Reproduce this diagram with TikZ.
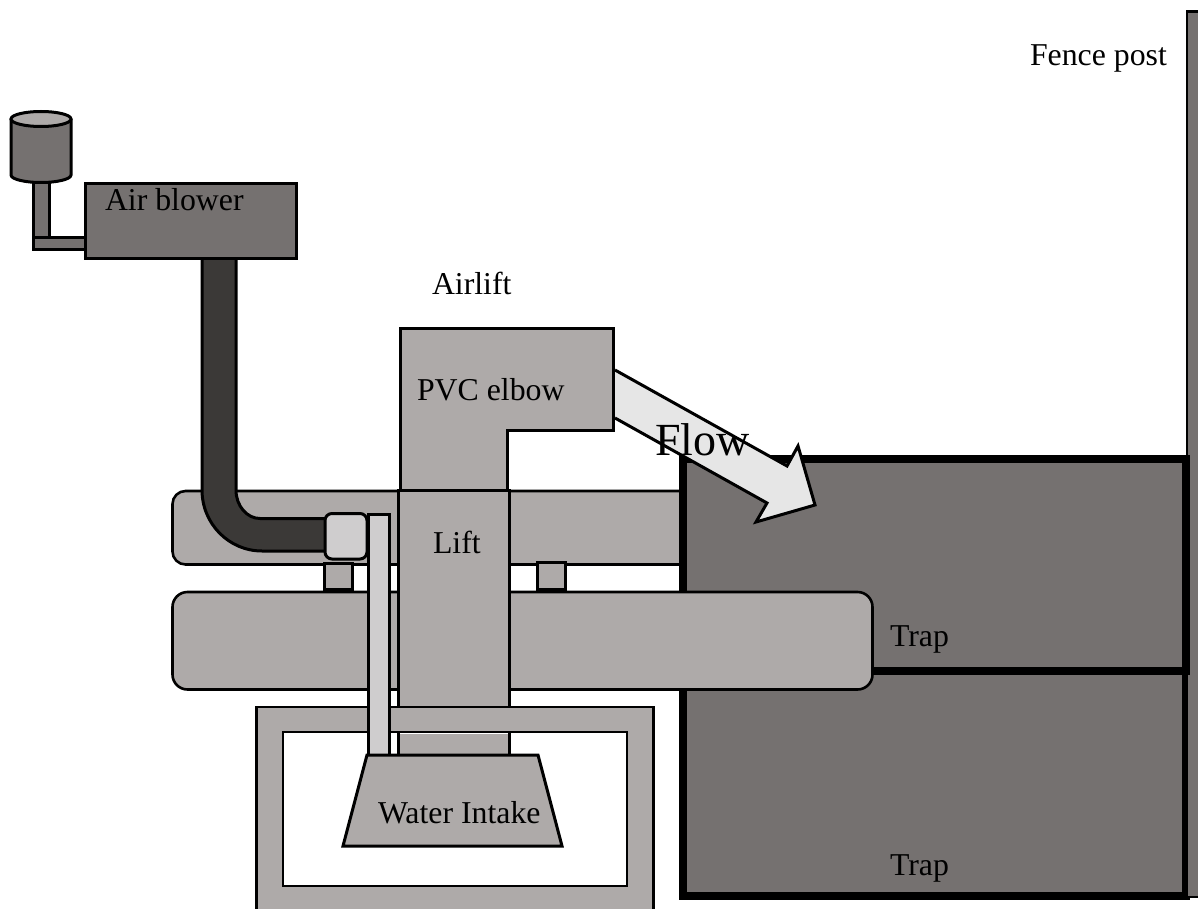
\documentclass[tikz,border=0pt]{standalone}
\usepackage{fontspec}
\setmainfont{Liberation Serif}
\definecolor{darkgrey}{HTML}{757170}
\definecolor{midgrey}{HTML}{AEAAA9}
\definecolor{lightgrey}{HTML}{CFCDCE}
\definecolor{pipegrey}{HTML}{3B3937}
\definecolor{arrowgrey}{HTML}{E6E6E6}
\tikzset{
  part/.style={draw=black,line width=3pt,line join=miter},
  dark/.style={part,fill=darkgrey},
  mid/.style={part,fill=midgrey},
  light/.style={part,fill=lightgrey},
  floatbody/.style={mid,line width=2.6pt},
  trapbox/.style={draw=black,line width=8pt,fill=darkgrey},
  lab/.style={anchor=base west,inner sep=0pt,outer sep=0pt,text=black,font=\fontsize{31.8}{36}\selectfont},
  biglab/.style={anchor=base west,inner sep=0pt,outer sep=0pt,text=black,font=\fontsize{46}{50}\selectfont}
}
\begin{document}
\begin{tikzpicture}[x=1pt,y=-1pt]
\useasboundingbox (0,0) rectangle (1198,909);
% traps and post
\draw[trapbox] (682.5,670) rectangle (1186,895.5);
\draw[dark,line width=2.6pt] (1186.8,11.5) rectangle (1205,897);
\draw[floatbody] (172.5,504) arc[start angle=180,end angle=270,radius=13] -- (690,491) -- (690,564.5) -- (185.5,564.5) arc[start angle=90,end angle=180,radius=13] -- cycle;
\draw[trapbox] (682.5,459) rectangle (1186,670.5);
% lower float
\draw[floatbody,rounded corners=15pt] (172.5,592) rectangle (872.5,689.5);
% spacer blocks
\draw[mid] (324,563.5) rectangle (352,589.5);
\draw[mid] (537,562.5) rectangle (565,589.5);
% lift and elbow
\draw[mid] (400,490) -- (400,328) -- (613,328) -- (613,430) -- (507,430) -- (507,490);
\draw[mid] (398,490) rectangle (509,760);
% frame
\draw[floatbody] (256.5,707) rectangle (653.5,920);
\fill[white] (283,732) rectangle (627,886);
\draw[part,line width=2.6pt] (283,732) rectangle (627,886);
\fill[midgrey] (398,733.5) rectangle (509,760);
\draw[part] (398,732) -- (398,760) (509,732) -- (509,760);
% air supply
\draw[part,fill=pipegrey] (202,250) -- (202,490) arc[start angle=180,end angle=90,x radius=60,y radius=61] -- (330,551) -- (330,518.5) -- (260,518.5) arc[start angle=90,end angle=180,x radius=24,y radius=28.5] -- (236,250) -- cycle;
\draw[light,rounded corners=7pt] (325,513.5) rectangle (367,559);
\draw[light] (368.5,514) rectangle (389.5,760);
\draw[mid] (367,755) -- (538,755) -- (562,846) -- (343,846) -- cycle;
% blower
\draw[dark] (33,183) rectangle (49,238);
\draw[dark] (33,238) rectangle (90,249.5);
\draw[dark] (85,183.5) rectangle (296,258.5);
\draw[dark] (11,119) -- (11,175) arc[start angle=180,end angle=0,x radius=30,y radius=7.5] -- (71,119);
\draw[part,fill=midgrey] (41,119) ellipse[x radius=30,y radius=7.5];
% flow arrow
\fill[arrowgrey] (615,370) -- (787,466) -- (798,446) -- (815,505) -- (756,522) -- (767,503) -- (615,418) -- cycle;
\draw[part] (615,370) -- (787,466) -- (798,446) -- (815,505) -- (756,522) -- (767,503) -- (615,418);
% labels
\node[lab] (fence) at (1030,66) {Fence post};
\node[lab] (blower) at (105,211) {Air blower};
\node[lab] (airlift) at (432,294) {Airlift};
\node[lab] (elbow) at (417,400) {PVC elbow};
\node[lab] (lift) at (433,553) {Lift};
\node[lab] (intake) at (378,823) {Water Intake};
\node[lab] (trapa) at (890,646) {Trap};
\node[lab] (trapb) at (890,875) {Trap};
\node[biglab] (flow) at (655,455) {Flow};
\end{tikzpicture}
\end{document}
